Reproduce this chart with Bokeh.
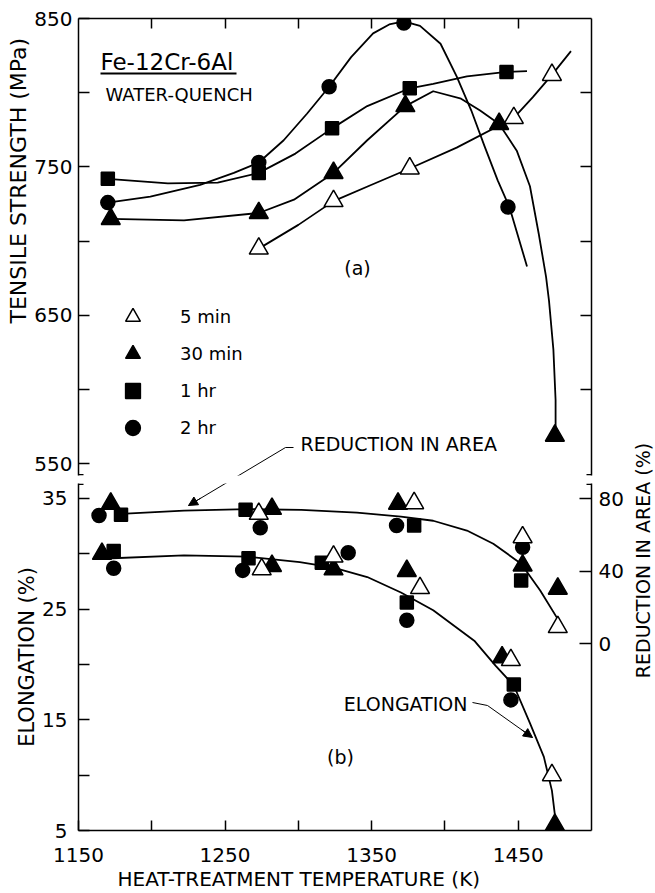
import math
from bokeh.plotting import figure
from bokeh.models import (Range1d, LinearAxis, FixedTicker, Label, Arrow, NormalHead,
                          Legend, LegendItem, Title)
from bokeh.layouts import column, row
from bokeh.embed import file_html
from bokeh.resources import INLINE

FONT = "DejaVu Sans"

# ---------------- (a) tensile strength, MPa ----------------
ts_5min_T = [1273, 1324, 1376, 1447, 1473]
ts_5min_v = [695, 727, 749, 783, 812]
ts_30min_T = [1172, 1273, 1324, 1373, 1437, 1475]
ts_30min_v = [715, 719, 746, 791, 779, 569]
ts_1hr_T = [1170, 1273, 1323, 1376, 1442]
ts_1hr_v = [742, 746, 776, 803, 814]
ts_2hr_T = [1170, 1273, 1321, 1372, 1443]
ts_2hr_v = [726, 753, 804, 847, 723]

# hand-drawn fit curves of panel (a)
fit_5min_T = [1273, 1300, 1324, 1350, 1376, 1408, 1447, 1460, 1473, 1486]
fit_5min_v = [695, 711, 727, 738, 749, 763, 783, 797, 812, 828]
fit_30min_T = [1172, 1222, 1273, 1297, 1324, 1347, 1373, 1392, 1411, 1424, 1437,
               1449, 1458, 1464, 1469, 1471, 1474, 1475.5, 1475.5]
fit_30min_v = [715, 714, 719, 728, 746, 768, 791, 801, 796, 788, 779,
               761, 737, 705, 676, 660, 627, 593, 570]
fit_1hr_T = [1170, 1211, 1245, 1273, 1298, 1323, 1347, 1376, 1392, 1415, 1442, 1456]
fit_1hr_v = [742, 739, 739.5, 746, 759, 776, 791, 803, 806, 811, 814, 814.5]
fit_2hr_T = [1170, 1199, 1233, 1256, 1273, 1290, 1306, 1321, 1336, 1351, 1362, 1372,
             1383, 1397, 1408, 1418, 1427, 1436, 1444, 1456]
fit_2hr_v = [726, 730, 738, 746, 753, 768, 786, 804, 824, 840, 846, 848,
             845, 833, 811, 788, 764, 741, 723, 683]

# ---------------- (b) elongation, % ----------------
el_5min_T = [1275, 1324, 1383, 1445, 1473]
el_5min = [28.6, 29.75, 26.9, 20.4, 10.0]
el_30min_T = [1166, 1282, 1324, 1374, 1439, 1475]
el_30min = [30.0, 28.9, 28.6, 28.45, 20.65, 5.5]
el_1hr_T = [1174, 1266, 1316, 1374, 1447]
el_1hr = [30.25, 29.6, 29.2, 25.6, 18.2]
el_2hr_T = [1174, 1262, 1334, 1374, 1445]
el_2hr = [28.7, 28.5, 30.1, 24.0, 16.8]

# ---------------- (b) reduction in area, % ----------------
ra_5min_T = [1273, 1379, 1453, 1477]
ra_5min = [71.8, 77.7, 58.9, 9.3]
ra_30min_T = [1172, 1282, 1368, 1453, 1477]
ra_30min = [77.4, 74.6, 77.4, 43.3, 30.5]
ra_1hr_T = [1179, 1264, 1379, 1452]
ra_1hr = [71.3, 74.0, 65.4, 35.0]
ra_2hr_T = [1164, 1274, 1367, 1453]
ra_2hr = [70.9, 64.1, 65.4, 53.4]

fit_el_T = [1165, 1222, 1265, 1301, 1324, 1347, 1370, 1392, 1420, 1434.5, 1447,
            1458, 1467.5, 1473, 1475.5, 1476]
fit_el = [29.55, 29.85, 29.75, 29.25, 28.75, 27.9, 26.5, 24.9, 22.15, 19.9, 18.1,
          14.7, 11.65, 8.6, 5.9, 5.0]
fit_ra_T = [1179, 1222, 1265, 1302, 1340, 1370, 1392, 1415, 1433, 1452, 1465, 1479]
fit_ra = [71.8, 73.6, 74.4, 74.0, 72.5, 70.3, 68.0, 62.6, 55.3, 44.3, 29.5, 11.1]

# ---------------- axes ----------------
T_MIN, T_MAX = 1150, 1500
TS_MIN, TS_MAX = 542.2, 850
EL_MIN, EL_MAX = 5, 36.35
RA_MIN, RA_MAX = -102.9, 88.55
t_major = [1150, 1250, 1350, 1450]
t_minor = [1200, 1300, 1400]
t_top = [1200, 1250, 1300, 1350, 1400, 1450]
ts_major = [550, 650, 750, 850]
ts_minor = [600, 700, 800]
ts_right = [600, 650, 700, 750, 800]
el_major = [5, 15, 25, 35]
el_minor = [10, 20, 30]
ra_major = [0, 40, 80]

# ---------------- page geometry (px) ----------------
W, H = 655, 893
W_MAIN = 626           # width of the two stacked panels; a slim strip holds the right title
FRAME_L, FRAME_R = 78, 591
TOP_T, TOP_B = 18, 475
BOT_T, BOT_B = 483, 830
SPLIT = 479


def fx(px):
    return T_MIN + (px - FRAME_L) * (T_MAX - T_MIN) / (FRAME_R - FRAME_L)


def fts(py):
    return TS_MAX - (py - TOP_T) * (TS_MAX - TS_MIN) / (TOP_B - TOP_T)


def fel(py):
    return EL_MIN + (BOT_B - py) * (EL_MAX - EL_MIN) / (BOT_B - BOT_T)


common = dict(width=W_MAIN, output_backend="svg", toolbar_location=None,
              x_axis_type=None, y_axis_type=None,
              min_border_left=FRAME_L, min_border_right=W_MAIN - FRAME_R,
              background_fill_color="white", border_fill_color="white")

p1 = figure(height=SPLIT, x_range=Range1d(T_MIN, T_MAX),
            y_range=Range1d(TS_MIN, TS_MAX),
            min_border_top=TOP_T, min_border_bottom=SPLIT - TOP_B, **common)
p2 = figure(height=H - SPLIT, x_range=p1.x_range,
            y_range=Range1d(EL_MIN, EL_MAX),
            min_border_top=BOT_T - SPLIT, min_border_bottom=H - BOT_B, **common)
p2.extra_y_ranges = {"ra": Range1d(RA_MIN, RA_MAX)}
for p in (p1, p2):
    p.outline_line_color = None


def style_axis(ax, tick_len, standoff, size="20px"):
    ax.axis_line_color = "black"
    ax.axis_line_width = 1.5
    ax.major_tick_in = tick_len
    ax.major_tick_out = 0
    ax.minor_tick_in = tick_len
    ax.minor_tick_out = 0
    ax.major_tick_line_width = 1.5
    ax.minor_tick_line_width = 1.5
    ax.major_tick_line_color = "black"
    ax.minor_tick_line_color = "black"
    ax.major_label_standoff = standoff
    ax.major_label_text_font = FONT
    ax.major_label_text_font_size = size
    ax.major_label_text_color = "black"
    return ax


def title(text, size, align="center", offset=0, standoff=2):
    return Title(text=text, align=align, offset=offset, standoff=standoff,
                 text_font=FONT, text_font_size=size, text_font_style="normal",
                 text_color="black")


# panel (a) axes: labelled left axis, tick-only right and top axes
p1.add_layout(style_axis(LinearAxis(ticker=FixedTicker(ticks=ts_major, minor_ticks=ts_minor)), 11, 6), "left")
p1.add_layout(title("TENSILE STRENGTH (MPa)", "22px", "left", 152), "left")
p1.add_layout(style_axis(LinearAxis(ticker=FixedTicker(ticks=[], minor_ticks=ts_right)), 11, 2), "right")
p1.add_layout(style_axis(LinearAxis(ticker=FixedTicker(ticks=[], minor_ticks=t_top)), 10, 2), "above")

# panel (b) axes
p2.add_layout(style_axis(LinearAxis(ticker=FixedTicker(ticks=el_major, minor_ticks=el_minor)), 11, 11), "left")
p2.add_layout(title("ELONGATION (%)", "21px"), "left")
p2.add_layout(style_axis(LinearAxis(y_range_name="ra", ticker=FixedTicker(ticks=ra_major)), 12, 7), "right")
p2.add_layout(style_axis(LinearAxis(ticker=FixedTicker(ticks=t_major, minor_ticks=t_minor)), 10, 17), "below")
p2.add_layout(title("HEAT-TREATMENT TEMPERATURE (K)", "20px", "left", 39, 0), "below")

LW = 1.8
# fit curves
for T, v in ((fit_5min_T, fit_5min_v), (fit_30min_T, fit_30min_v),
             (fit_1hr_T, fit_1hr_v), (fit_2hr_T, fit_2hr_v)):
    p1.line(T, v, line_color="black", line_width=LW, line_join="round")
p2.line(fit_el_T, fit_el, line_color="black", line_width=LW, line_join="round")
p2.line(fit_ra_T, fit_ra, line_color="black", line_width=LW, line_join="round", y_range_name="ra")

MK = dict(line_color="black", line_width=1.5)
STYLES = {"5": dict(marker="triangle", size=19, fill_color="white"),
          "30": dict(marker="triangle", size=19, fill_color="black"),
          "1": dict(marker="square", size=13, fill_color="black"),
          "2": dict(marker="circle", size=14, fill_color="black")}

r5 = p1.scatter(ts_5min_T, ts_5min_v, **STYLES["5"], **MK)
r30 = p1.scatter(ts_30min_T, ts_30min_v, **STYLES["30"], **MK)
r1 = p1.scatter(ts_1hr_T, ts_1hr_v, **STYLES["1"], **MK)
r2 = p1.scatter(ts_2hr_T, ts_2hr_v, **STYLES["2"], **MK)

for T, v, k in ((el_2hr_T, el_2hr, "2"), (el_1hr_T, el_1hr, "1"),
                (el_30min_T, el_30min, "30"), (el_5min_T, el_5min, "5")):
    p2.scatter(T, v, **STYLES[k], **MK)
for T, v, k in ((ra_2hr_T, ra_2hr, "2"), (ra_1hr_T, ra_1hr, "1"),
                (ra_30min_T, ra_30min, "30"), (ra_5min_T, ra_5min, "5")):
    p2.scatter(T, v, y_range_name="ra", **STYLES[k], **MK)

legend = Legend(items=[LegendItem(label="5 min", renderers=[r5]),
                       LegendItem(label="30 min", renderers=[r30]),
                       LegendItem(label="1 hr", renderers=[r1]),
                       LegendItem(label="2 hr", renderers=[r2])],
                location=(36, 29), orientation="vertical",
                border_line_color=None, background_fill_alpha=0,
                padding=0, margin=0, spacing=0,
                glyph_width=37, glyph_height=37, label_height=37,
                label_standoff=29, label_text_font=FONT,
                label_text_font_size="18px", label_text_color="black")
p1.add_layout(legend)


def text(p, fy, px, py, s, size, align="left"):
    p.add_layout(Label(x=fx(px), y=fy(py), text=s, text_font=FONT,
                       text_font_size=size, text_align=align,
                       text_baseline="middle", text_color="black"))


def rule(p, fy, x0, y0, x1, y1, lw=1.0):
    p.segment(x0=[fx(x0)], y0=[fy(y0)], x1=[fx(x1)], y1=[fy(y1)],
              line_color="black", line_width=lw)


def head(p, fy, x0, y0, x1, y1):
    p.add_layout(Arrow(end=NormalHead(size=9, fill_color="black", line_color="black", line_width=1),
                       x_start=fx(x0), y_start=fy(y0), x_end=fx(x1), y_end=fy(y1),
                       line_color="black", line_width=1))


# panel (a) texts
text(p1, fts, 100, 61, "Fe-12Cr-6Al", "23px")
rule(p1, fts, 100, 73, 236, 73, lw=1.8)
text(p1, fts, 105, 94, "WATER-QUENCH", "18px")
text(p1, fts, 357, 267, "(a)", "19px", "center")
text(p1, fts, 300, 443, "REDUCTION IN AREA", "19px")

# panel (b) texts
text(p2, fel, 340, 756, "(b)", "19px", "center")
text(p2, fel, 467, 703, "ELONGATION", "19px", "right")

# leader lines and arrow heads
rule(p1, fts, 293, 447, 285, 447)
rule(p1, fts, 285, 447, 224.8, 483)
rule(p2, fel, 238.2, 475, 188, 505)
head(p2, fel, 200, 497.8, 188, 505)
rule(p2, fel, 472, 702, 487, 705)
rule(p2, fel, 487, 705, 532, 737)
head(p2, fel, 521, 729.2, 532, 737)

# axis-break caps (inner halves)
rule(p1, fts, FRAME_L, TOP_B - 0.8, FRAME_L + 5, TOP_B - 0.8, lw=1.5)
rule(p1, fts, FRAME_R - 5, TOP_B - 0.8, FRAME_R, TOP_B - 0.8, lw=1.5)
rule(p2, fel, FRAME_L, BOT_T + 0.8, FRAME_L + 5, BOT_T + 0.8, lw=1.5)
rule(p2, fel, FRAME_R - 5, BOT_T + 0.8, FRAME_R, BOT_T + 0.8, lw=1.5)

# slim strip on the right carrying the reduction-in-area axis title
# (its ranges are simply the page's pixel coordinates)
p3 = figure(width=W - W_MAIN, height=H, x_range=Range1d(W_MAIN, W), y_range=Range1d(H, 0),
            output_backend="svg", toolbar_location=None, x_axis_type=None, y_axis_type=None,
            min_border=0, min_border_left=0, min_border_right=0, min_border_top=0,
            min_border_bottom=0, outline_line_color=None,
            background_fill_color="white", border_fill_color="white")
p3.add_layout(Label(x=642, y=560, text="REDUCTION IN AREA (%)", text_font=FONT,
                    text_font_size="19px", text_align="center", text_baseline="middle",
                    angle=math.pi / 2, text_color="black"))

layout = row(column(p1, p2, spacing=0), p3, spacing=0)
open("out.html", "w").write(file_html(layout, INLINE))
